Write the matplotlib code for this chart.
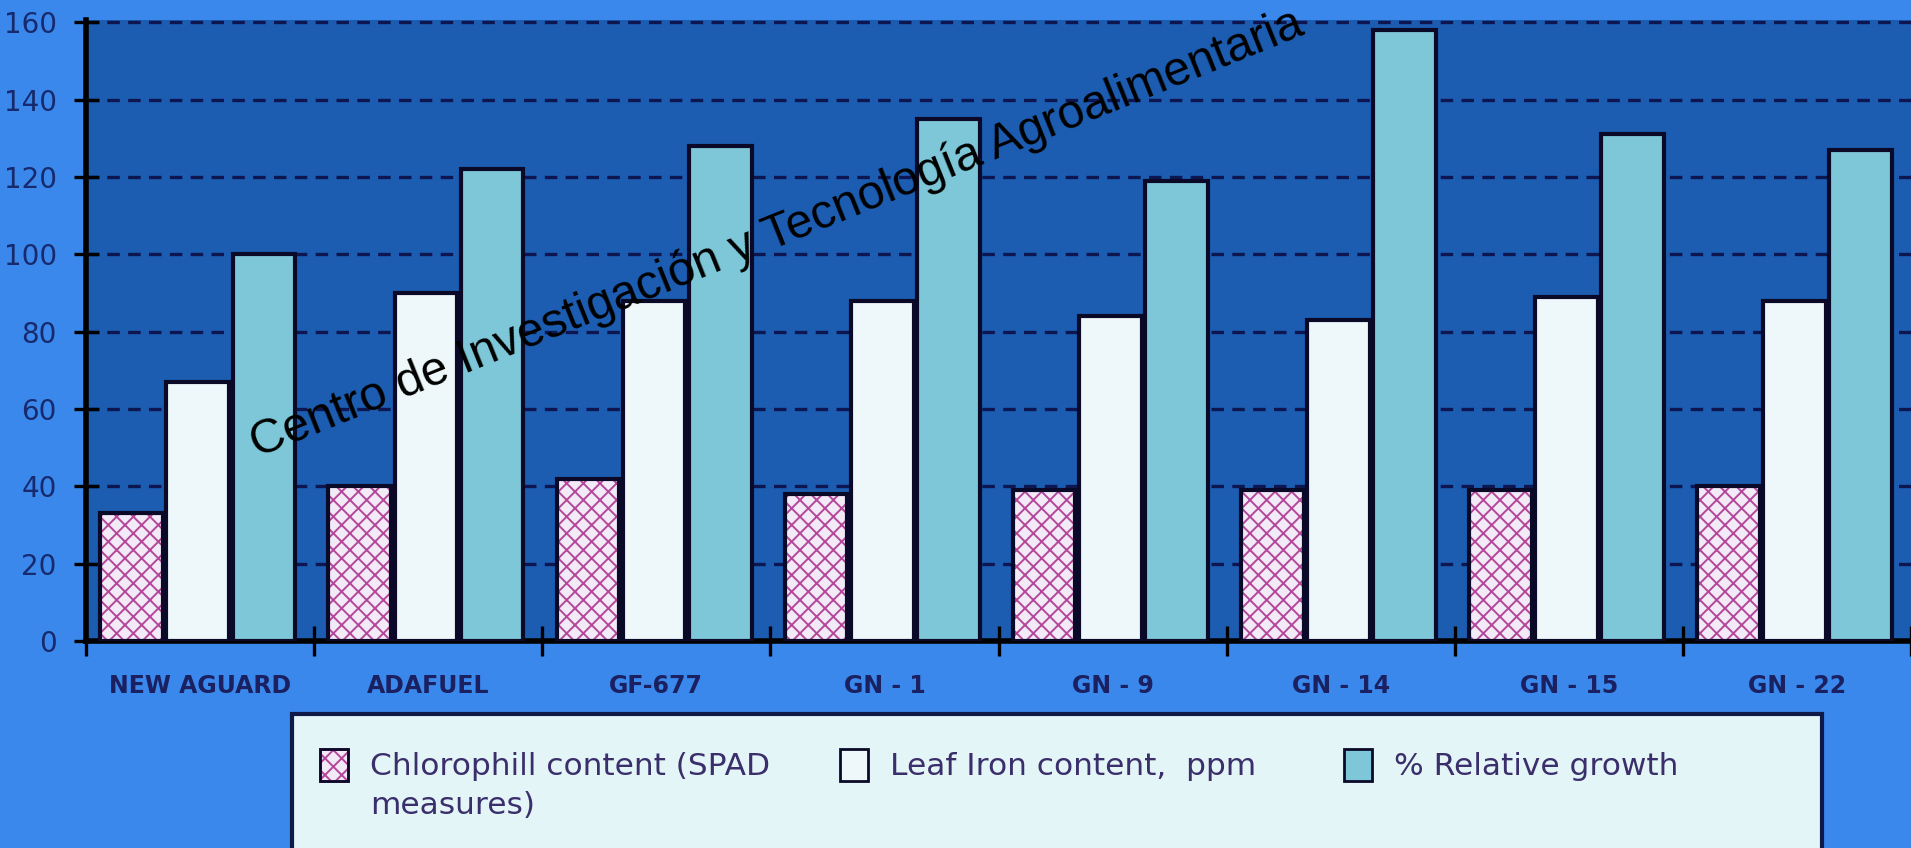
import numpy as np
import matplotlib.pyplot as plt
from matplotlib.patches import Rectangle

plt.rcParams['lines.scale_dashes'] = False
plt.rcParams['hatch.linewidth'] = 1.4

rootstocks = ["NEW AGUARD", "ADAFUEL", "GF-677", "GN - 1", "GN - 9", "GN - 14", "GN - 15", "GN - 22"]
chlorophyll = [33, 40, 42, 38, 39, 39, 39, 40]
leaf_iron = [67, 90, 88, 88, 84, 83, 89, 88]
rel_growth = [100, 122, 128, 135, 119, 158, 131, 127]
series_names = ["Chlorophill content (SPAD\nmeasures)", "Leaf Iron content,  ppm", "% Relative growth"]
yticks = [0, 20, 40, 60, 80, 100, 120, 140, 160]

bg = '#3a88ec'
panel = '#1c5db2'
navy = '#172a6e'
edge = '#0a0a28'
pink_face = '#f2eaf6'
pink_hatch = '#b4479a'
white_face = '#eef8fa'
teal_face = '#7dc7d8'

fig = plt.figure(figsize=(19.11, 8.48), dpi=100, facecolor=bg)
ax = fig.add_axes([86 / 1911, 1 - 641 / 848, 1 - 86 / 1911, 621 / 848])
ax.set_facecolor(panel)

x = np.arange(len(rootstocks))
w = 0.275
# hatched chlorophyll bars: hatch pass, then outline pass
ax.bar(x + 0.2, chlorophyll, w, color=pink_face, edgecolor=pink_hatch, hatch='xx', linewidth=0, zorder=3)
ax.bar(x + 0.2, chlorophyll, w, fill=False, edgecolor=edge, linewidth=3, zorder=4)
ax.bar(x + 0.49, leaf_iron, w, color=white_face, edgecolor=edge, linewidth=3, zorder=3)
ax.bar(x + 0.78, rel_growth, w, color=teal_face, edgecolor=edge, linewidth=3, zorder=3)

ax.set_xlim(0, len(rootstocks))
ax.set_ylim(0, 160.6)

ax.set_yticks(yticks)
ax.set_yticklabels([str(v) for v in yticks])
ax.tick_params(axis='y', direction='inout', length=18, width=2.4, color='black',
               pad=12, labelsize=20, labelcolor=navy)
ax.yaxis.grid(True, color='#0d1650', linewidth=2.4, linestyle=(0, (9, 6)))
ax.set_axisbelow(True)

ax.set_xticks(np.arange(len(rootstocks) + 1))
ax.set_xticklabels([])
ax.set_xticks(x + 0.5, minor=True)
ax.set_xticklabels(rootstocks, minor=True, fontsize=17, fontweight='bold', color='#1a2060',
                   family=['Liberation Sans Narrow', 'DejaVu Sans'])
ax.tick_params(axis='x', which='major', direction='inout', length=22, width=2.4, color='black')
ax.tick_params(axis='x', which='minor', length=0, pad=24)

for s in ['top', 'right']:
    ax.spines[s].set_visible(False)
for s in ['left', 'bottom']:
    ax.spines[s].set_linewidth(4)
    ax.spines[s].set_color('black')

# legend panel
W, H = 1911, 848
fig.patches.append(Rectangle((292 / W, -0.05), (1822 - 292) / W, 0.05 + (848 - 714) / H,
                             transform=fig.transFigure, facecolor='#e4f5f7', edgecolor='#101a48',
                             linewidth=3, zorder=1))
txt_col = '#3b2f6b'
keys = [(320, dict(facecolor=pink_face, edgecolor=pink_hatch, hatch='xx')),
        (840, dict(facecolor=white_face, edgecolor=edge)),
        (1344, dict(facecolor=teal_face, edgecolor=edge))]
for (kx, style), name in zip(keys, series_names):
    r = Rectangle((kx / W, 1 - 781 / H), 28 / W, 32 / H, transform=fig.transFigure,
                  linewidth=2, zorder=2, **style)
    fig.patches.append(r)
    if style.get('hatch'):
        fig.patches.append(Rectangle((kx / W, 1 - 781 / H), 28 / W, 32 / H, transform=fig.transFigure,
                                     fill=False, edgecolor=edge, linewidth=2, zorder=3))
    fig.text((kx + 50) / W, 1 - 752 / H, name, ha='left', va='top', fontsize=22.5,
             color=txt_col, linespacing=1.45, zorder=4)

fig.text(257 / W, 1 - 458 / H, "Centro de Investigación y Tecnología Agroalimentaria",
         rotation=22, rotation_mode='anchor', ha='left', va='baseline', fontsize=34.5,
         family=['Liberation Sans', 'DejaVu Sans'], color='black', zorder=10)

fig.savefig('out.png', dpi=100, facecolor=bg)
